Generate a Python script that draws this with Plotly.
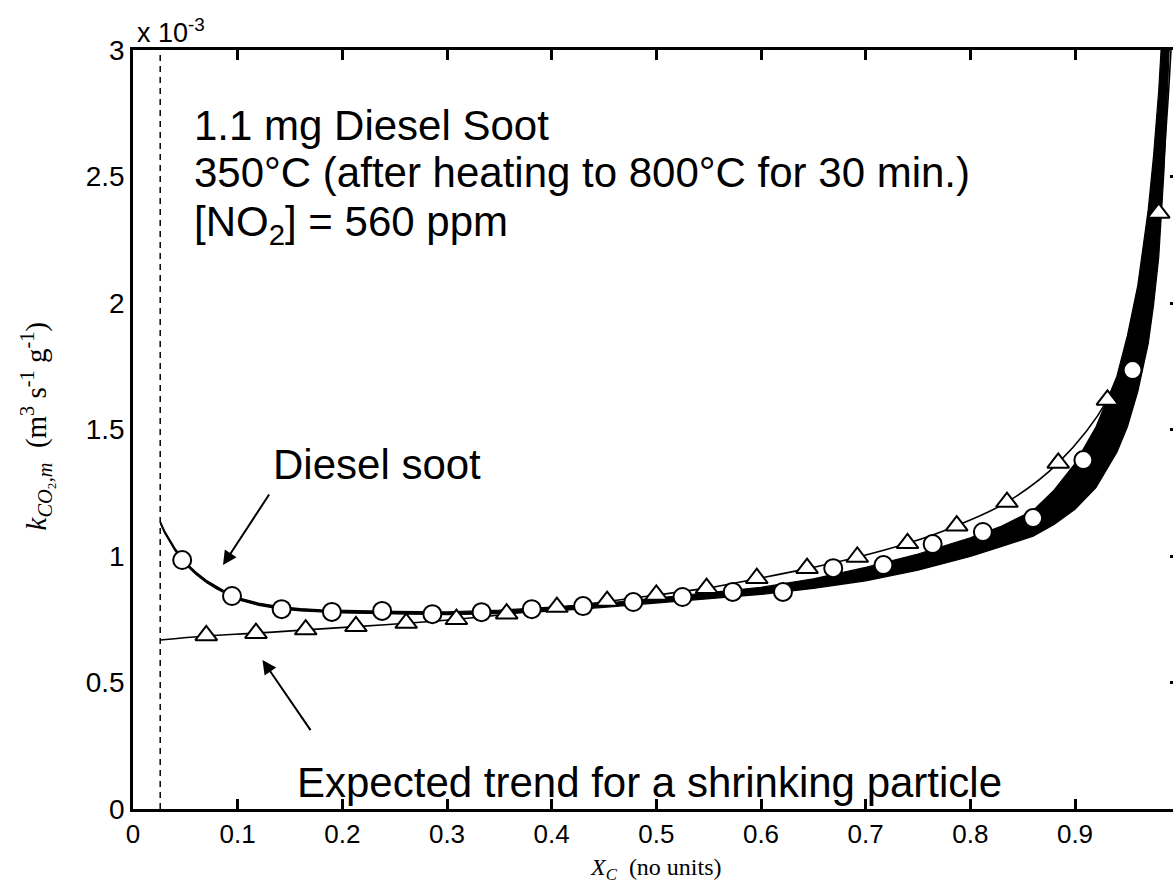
import plotly.graph_objects as go

# ---- data (k in units of 1e-3 m^3 s^-1 g^-1) ----
soot_x  = [0.026, 0.03, 0.04, 0.05, 0.06, 0.07, 0.08, 0.09, 0.10, 0.12, 0.14, 0.16, 0.18, 0.20, 0.25,
           0.30, 0.35, 0.40, 0.45, 0.50, 0.55, 0.60, 0.65, 0.70, 0.75, 0.80, 0.83, 0.86, 0.88, 0.90,
           0.92, 0.94, 0.95, 0.96, 0.97, 0.975, 0.98, 0.985, 0.99]
soot_lo = [1.129, 1.092, 1.022, 0.967, 0.928, 0.895, 0.870, 0.847, 0.827, 0.805, 0.791, 0.783, 0.778, 0.775, 0.771,
           0.768, 0.772, 0.782, 0.797, 0.814, 0.832, 0.848, 0.872, 0.902, 0.944, 0.998, 1.038, 1.078, 1.125, 1.185,
           1.27, 1.41, 1.51, 1.65, 1.84, 1.99, 2.18, 2.52, 3.0]
soot_hi = [1.138, 1.101, 1.031, 0.976, 0.937, 0.904, 0.879, 0.856, 0.836, 0.814, 0.800, 0.792, 0.787, 0.785, 0.781,
           0.779, 0.786, 0.798, 0.813, 0.834, 0.856, 0.876, 0.910, 0.955, 1.008, 1.072, 1.118, 1.180, 1.260, 1.365,
           1.51, 1.71, 1.87, 2.07, 2.37, 2.58, 2.84, 3.20, 3.5]

circ_x = [0.047, 0.0946, 0.142, 0.190, 0.238, 0.286, 0.333, 0.381, 0.430, 0.478, 0.525, 0.573, 0.621,
          0.669, 0.717, 0.764, 0.812, 0.860, 0.908, 0.955]
circ_y = [0.984, 0.842, 0.790, 0.779, 0.783, 0.770, 0.778, 0.790, 0.802, 0.818, 0.838, 0.858, 0.858,
          0.952, 0.964, 1.047, 1.095, 1.150, 1.379, 1.735]

model_x = [0.026, 0.070, 0.1175, 0.165, 0.213, 0.261, 0.309, 0.357, 0.405, 0.453, 0.500, 0.548, 0.596,
           0.644, 0.692, 0.740, 0.787, 0.835, 0.884, 0.931, 0.960, 0.980, 0.988, 0.993]
model_y = [0.668, 0.684, 0.695, 0.708, 0.721, 0.734, 0.750, 0.770, 0.795, 0.820, 0.846, 0.873, 0.910,
           0.950, 0.995, 1.050, 1.120, 1.213, 1.368, 1.617, 1.930, 2.356, 2.750, 3.100]

tri_x = [0.070, 0.1175, 0.165, 0.213, 0.261, 0.309, 0.357, 0.405, 0.453, 0.500, 0.548, 0.596, 0.644,
         0.692, 0.740, 0.787, 0.835, 0.884, 0.931, 0.980]
tri_y = [0.686, 0.695, 0.709, 0.722, 0.735, 0.750, 0.772, 0.798, 0.822, 0.846, 0.873, 0.912, 0.952,
         0.996, 1.050, 1.120, 1.213, 1.368, 1.617, 2.356]

cutoff_x = 0.026
y_ticks = [0, 0.5, 1, 1.5, 2, 2.5, 3]
y_tick_text = ["0", "0.5", "1", "1.5", "2", "2.5", "3"]
x_ticks = [0, 0.1, 0.2, 0.3, 0.4, 0.5, 0.6, 0.7, 0.8, 0.9]
x_tick_text = ["0", "0.1", "0.2", "0.3", "0.4", "0.5", "0.6", "0.7", "0.8", "0.9"]

fig = go.Figure()

# dashed start line
fig.add_trace(go.Scatter(x=[cutoff_x, cutoff_x], y=[0, 3], mode="lines",
                         line=dict(color="black", width=1.5, dash="6px,5px"), showlegend=False))

# noisy measured curve as a band
fig.add_trace(go.Scatter(x=soot_x + soot_x[::-1], y=soot_lo + soot_hi[::-1], mode="lines",
                         fill="toself", fillcolor="black",
                         line=dict(color="black", width=1.2), showlegend=False))

# model curve
fig.add_trace(go.Scatter(x=model_x, y=model_y, mode="lines", line_shape="spline",
                         line=dict(color="black", width=1.6), showlegend=False))

fig.add_trace(go.Scatter(x=tri_x, y=tri_y, mode="markers",
                         marker=dict(symbol="triangle-up", size=19, color="white",
                                     line=dict(color="black", width=2)), showlegend=False))
fig.add_trace(go.Scatter(x=circ_x, y=circ_y, mode="markers",
                         marker=dict(symbol="circle", size=18, color="white",
                                     line=dict(color="black", width=2)), showlegend=False))

# invisible trace on right axis for mirrored ticks without line
fig.add_trace(go.Scatter(x=[0], y=[0], mode="markers", marker=dict(opacity=0), yaxis="y2",
                         showlegend=False, hoverinfo="skip"))

sans = "Liberation Sans, Arial, Helvetica, sans-serif"
serif = "Liberation Serif, Times New Roman, serif"

fig.update_layout(
    width=1173, height=885,
    margin=dict(l=133, r=0, t=50, b=76),
    plot_bgcolor="white", paper_bgcolor="white",
    xaxis=dict(range=[0, 0.99363], tickvals=x_ticks, ticktext=x_tick_text,
               showline=True, linecolor="black", linewidth=2.5, mirror="ticks",
               ticks="inside", ticklen=10, tickwidth=2.5, tickcolor="black",
               showgrid=False, zeroline=False, ticklabelstandoff=0,
               tickfont=dict(family=sans, size=26, color="black")),
    yaxis=dict(range=[0, 3], tickvals=y_ticks, ticktext=y_tick_text,
               showline=True, linecolor="black", linewidth=2.5, mirror=False,
               ticks="", showgrid=False, zeroline=False,
               tickfont=dict(family=sans, size=28, color="black")),
    yaxis2=dict(range=[0, 3], overlaying="y", side="right", tickvals=y_ticks,
                showticklabels=False, showline=False, ticks="inside", ticklen=3,
                tickwidth=2.5, tickcolor="black", showgrid=False, zeroline=False),
)

big = dict(family=sans, size=42, color="black")
lines = ["1.1 mg Diesel Soot", "350°C (after heating to 800°C for 30 min.)",
         "[NO<sub>2</sub>] = 560 ppm"]
line_y = [2.70, 2.515, 2.31]
for t, yy in zip(lines, line_y):
    fig.add_annotation(x=0.0564, y=yy, xref="x", yref="y", text=t, showarrow=False,
                       xanchor="left", yanchor="middle", font=big)

fig.add_annotation(x=0.132, y=1.36, xref="x", yref="y", text="Diesel soot", showarrow=False,
                   xanchor="left", yanchor="middle", font=big)
fig.add_annotation(x=0.155, y=0.105, xref="x", yref="y", text="Expected trend for a shrinking particle",
                   showarrow=False, xanchor="left", yanchor="middle", font=big)

# arrows
fig.add_annotation(x=0.086, y=0.964, ax=0.131, ay=1.249, xref="x", yref="y", axref="x", ayref="y",
                   text="", showarrow=True, arrowhead=2, arrowsize=1.4, arrowwidth=2, arrowcolor="black")
fig.add_annotation(x=0.1237, y=0.589, ax=0.1706, ay=0.306, xref="x", yref="y", axref="x", ayref="y",
                   text="", showarrow=True, arrowhead=2, arrowsize=1.4, arrowwidth=2, arrowcolor="black")

# exponent label
fig.add_annotation(x=0.002, y=1.025, xref="paper", yref="paper", text="x 10<sup>-3</sup>",
                   showarrow=False, xanchor="left", yanchor="middle",
                   font=dict(family=sans, size=27, color="black"))

# axis titles
fig.add_annotation(x=0.503, y=0.0, xref="paper", yref="paper", yshift=-60, borderpad=0,
                   text="<i>X</i><sub><i>C</i></sub>  (no units)", showarrow=False,
                   xanchor="center", yanchor="middle", font=dict(family=serif, size=24, color="black"))
fig.add_annotation(x=-0.0935, y=0.505, xref="paper", yref="paper", textangle=-90,
                   text="<i>k</i><sub><i>CO</i>₂<i>,m</i></sub>  (m<sup>3</sup> s<sup>-1</sup> g<sup>-1</sup>)",
                   showarrow=False, xanchor="center", yanchor="middle",
                   font=dict(family=serif, size=29, color="black"))

fig.write_html("out.html")
